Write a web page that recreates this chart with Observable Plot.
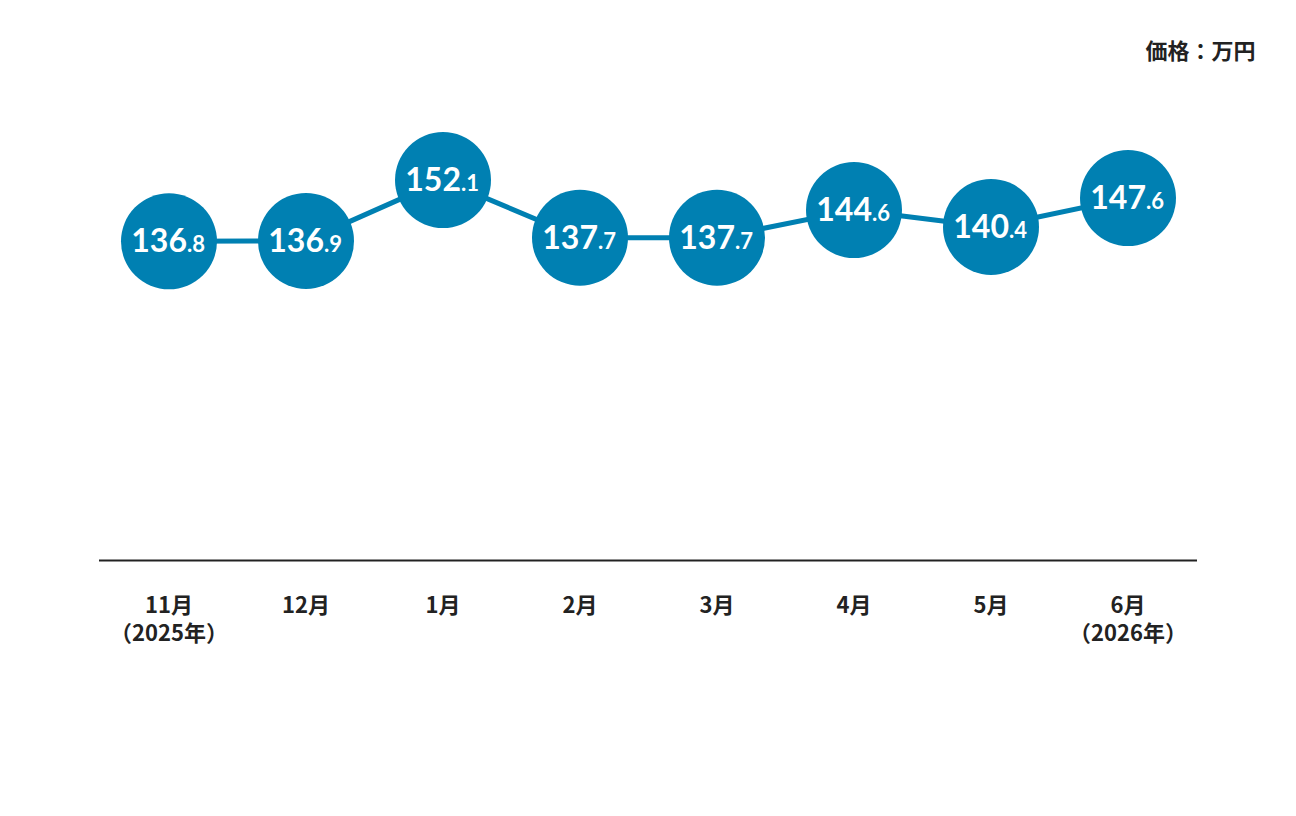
<!DOCTYPE html>
<html>
<head>
<meta charset="utf-8">
<script src="https://cdn.jsdelivr.net/npm/d3@7"></script>
<script src="https://cdn.jsdelivr.net/npm/@observablehq/plot@0.6"></script>
<style>
  html, body { margin: 0; padding: 0; background: #fff; }
</style>
</head>
<body>
<div id="chart"></div>
<script>
const months = ["11月", "12月", "1月", "2月", "3月", "4月", "5月", "6月"];
const yearNotes = ["（2025年）", "", "", "", "", "", "", "（2026年）"];
const prices = [136.8, 136.9, 152.1, 137.7, 137.7, 144.6, 140.4, 147.6];
const unitLabel = "価格：万円";

const data = months.map((m, i) => ({
  month: m,
  price: prices[i],
  intPart: String(Math.trunc(prices[i])),
  decPart: "." + prices[i].toFixed(1).split(".")[1],
  tick: yearNotes[i] ? m + "\n" + yearNotes[i] : m
}));

const blue = "#0080b2";
const numFont = "Lato, 'Open Sans', sans-serif";
const jpFont = "'Noto Sans CJK JP', 'Noto Sans', sans-serif";

const chart = Plot.plot({
  width: 1296,
  height: 816,
  marginLeft: 99,
  marginRight: 99,
  marginTop: 148,
  marginBottom: 256,
  x: { type: "band", domain: months, padding: 0, axis: null },
  y: { domain: [57, 160], axis: null },
  marks: [
    Plot.ruleY([57], { stroke: "#222", strokeWidth: 2 }),
    Plot.line(data, { x: "month", y: "price", stroke: blue, strokeWidth: 5 }),
    Plot.dot(data, { x: "month", y: "price", r: 48, fill: blue, stroke: "none" }),
    Plot.text(data, {
      x: "month", y: "price", text: "intPart",
      textAnchor: "end", lineAnchor: "bottom", dx: 18, dy: 11,
      fill: "white", fontSize: 32, fontWeight: "bold", fontFamily: numFont
    }),
    Plot.text(data, {
      x: "month", y: "price", text: "decPart",
      textAnchor: "start", lineAnchor: "bottom", dx: 18, dy: 11,
      fill: "white", fontSize: 22, fontWeight: "bold", fontFamily: numFont
    }),
    Plot.text(data, {
      x: "month", text: "tick", frameAnchor: "bottom",
      lineAnchor: "top", dy: 32, lineHeight: 1.3,
      fill: "#222", fontSize: 22, fontWeight: "bold", fontFamily: jpFont
    }),
    Plot.text([unitLabel], {
      text: d => d, frameAnchor: "top-right", textAnchor: "end", lineAnchor: "middle",
      dx: 58, dy: -97, fill: "#222", fontSize: 22, fontWeight: "bold", fontFamily: jpFont
    })
  ]
});

document.getElementById("chart").appendChild(chart);
</script>
</body>
</html>
